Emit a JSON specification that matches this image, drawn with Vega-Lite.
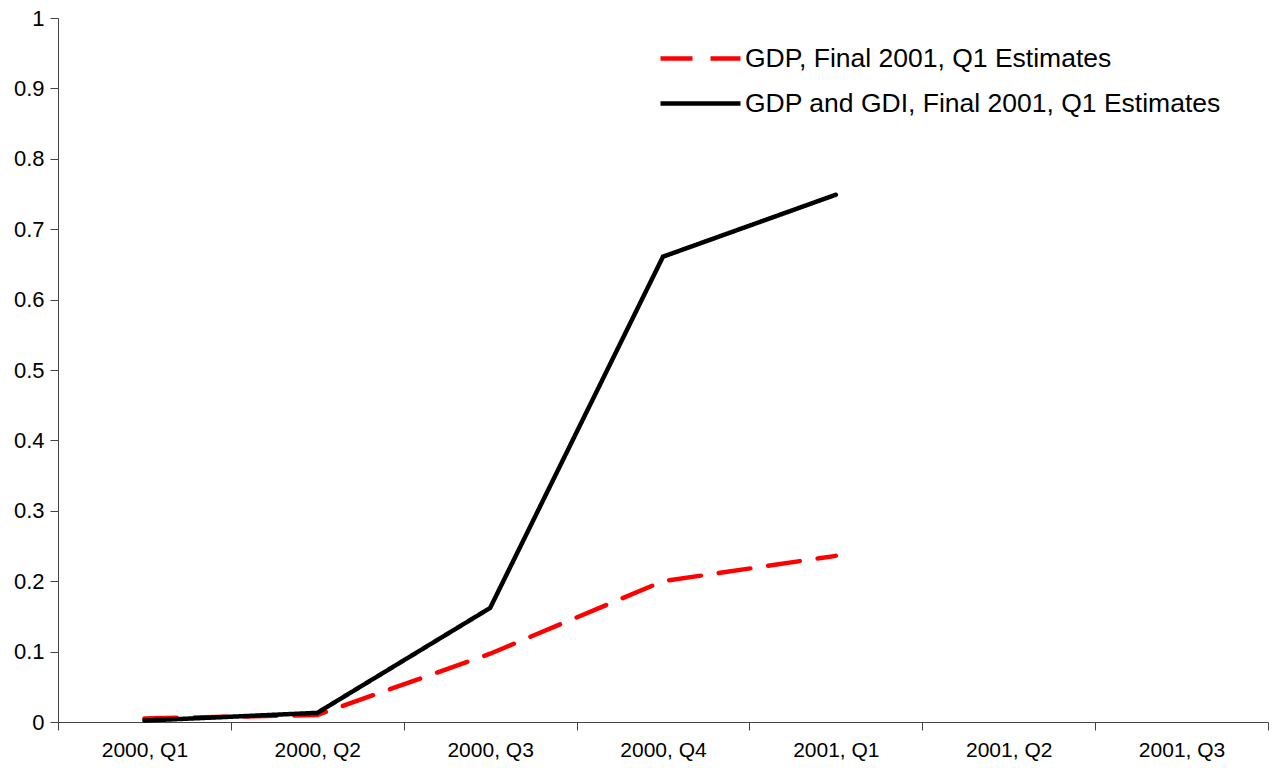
{
  "$schema": "https://vega.github.io/schema/vega-lite/v6.json",
  "width": 1210,
  "height": 704,
  "autosize": {"type": "none"},
  "padding": {"left": 58, "top": 18, "right": 5, "bottom": 46},
  "background": "white",
  "config": {
    "view": {"stroke": null},
    "font": "Liberation Sans",
    "axis": {"labelFont": "Liberation Sans", "labelColor": "black", "grid": false, "title": null}
  },
  "data": {
    "values": [
      {"quarter": "2000, Q1", "series": "GDP, Final 2001, Q1 Estimates", "value": 0.005},
      {"quarter": "2000, Q2", "series": "GDP, Final 2001, Q1 Estimates", "value": 0.010},
      {"quarter": "2000, Q3", "series": "GDP, Final 2001, Q1 Estimates", "value": 0.097},
      {"quarter": "2000, Q4", "series": "GDP, Final 2001, Q1 Estimates", "value": 0.200},
      {"quarter": "2001, Q1", "series": "GDP, Final 2001, Q1 Estimates", "value": 0.236},
      {"quarter": "2000, Q1", "series": "GDP and GDI, Final 2001, Q1 Estimates", "value": 0.002},
      {"quarter": "2000, Q2", "series": "GDP and GDI, Final 2001, Q1 Estimates", "value": 0.013},
      {"quarter": "2000, Q3", "series": "GDP and GDI, Final 2001, Q1 Estimates", "value": 0.162},
      {"quarter": "2000, Q4", "series": "GDP and GDI, Final 2001, Q1 Estimates", "value": 0.661},
      {"quarter": "2001, Q1", "series": "GDP and GDI, Final 2001, Q1 Estimates", "value": 0.749}
    ]
  },
  "mark": {"type": "line", "strokeWidth": 4.5, "strokeCap": "round", "strokeJoin": "miter"},
  "encoding": {
    "x": {
      "field": "quarter",
      "type": "nominal",
      "scale": {"type": "band", "domain": ["2000, Q1", "2000, Q2", "2000, Q3", "2000, Q4", "2001, Q1", "2001, Q2", "2001, Q3"], "paddingInner": 0, "paddingOuter": 0},
      "axis": {
        "labelAngle": 0,
        "tickBand": "extent",
        "labelFontSize": 21,
        "labelPadding": 9,
        "tickSize": 8,
        "tickColor": "#444",
        "domainColor": "#444",
        "domainWidth": 1
      }
    },
    "y": {
      "field": "value",
      "type": "quantitative",
      "scale": {"domain": [0, 1], "nice": false},
      "axis": {
        "values": [0, 0.1, 0.2, 0.3, 0.4, 0.5, 0.6, 0.7, 0.8, 0.9, 1],
        "format": "~g",
        "labelFontSize": 22,
        "labelPadding": 6,
        "tickSize": 8,
        "tickColor": "#444",
        "domainColor": "#444",
        "domainWidth": 1
      }
    },
    "color": {
      "field": "series",
      "type": "nominal",
      "scale": {"domain": ["GDP, Final 2001, Q1 Estimates", "GDP and GDI, Final 2001, Q1 Estimates"], "range": ["#ff0000", "#000000"]},
      "legend": {
        "title": null,
        "orient": "none",
        "legendX": 620,
        "legendY": 18,
        "symbolType": "M-2,0H2",
        "symbolSize": 1600,
        "symbolStrokeWidth": 4.5,
        "symbolFillColor": "transparent",
        "labelFontSize": 26.5,
        "labelFont": "Liberation Sans",
        "labelColor": "black",
        "labelOffset": 22,
        "rowPadding": 9,
        "labelLimit": 700
      }
    },
    "strokeDash": {
      "field": "series",
      "type": "nominal",
      "scale": {"domain": ["GDP, Final 2001, Q1 Estimates", "GDP and GDI, Final 2001, Q1 Estimates"], "range": [[32, 18], [1, 0]]},
      "legend": null
    }
  }
}
